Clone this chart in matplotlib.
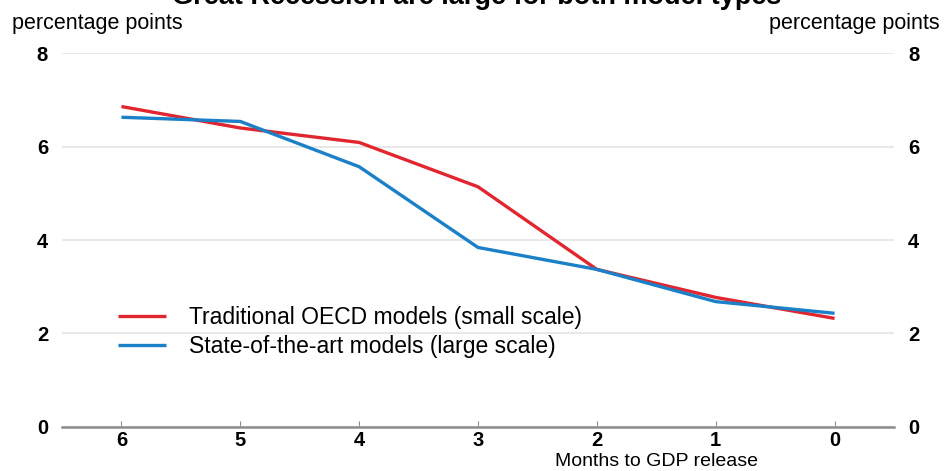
import matplotlib
matplotlib.use("Agg")
import matplotlib.pyplot as plt

months = [6, 5, 4, 3, 2, 1, 0]
traditional = [6.86, 6.40, 6.09, 5.14, 3.37, 2.77, 2.32]
state_of_art = [6.63, 6.54, 5.57, 3.84, 3.37, 2.68, 2.43]
y_ticks = [0, 2, 4, 6, 8]
labels = ["Traditional OECD models (small scale)", "State-of-the-art models (large scale)"]
title = "Great Recession are large for both model types"

plt.rcParams['font.family'] = ['Liberation Sans', 'DejaVu Sans']

fig = plt.figure(figsize=(9.44, 4.71), dpi=100)
ax = fig.add_axes([62/944, 1-426.7/471, 832/944, (426.7-53.3)/471])

ax.plot(months, traditional, color='#e2262f', lw=2.4, label=labels[0], solid_capstyle='butt')
ax.plot(months, state_of_art, color='#1a80c8', lw=2.4, label=labels[1], solid_capstyle='butt')

ax.set_xlim(6.5, -0.5)
ax.set_ylim(0, 8)
ax.set_yticks(y_ticks)
ax.set_xticks(months)
ax.grid(axis='y', color='#e4e4e4', lw=1.2)
ax.set_axisbelow(True)
for s in ['top', 'left', 'right']:
    ax.spines[s].set_visible(False)
ax.spines['bottom'].set_color('#8c8c8c')
ax.spines['bottom'].set_linewidth(1.8)
ax.tick_params(axis='y', length=0, labelsize=14.5, pad=10, labelright=True)
ax.tick_params(axis='x', direction='in', length=4, color='#8c8c8c', labelsize=14.5, pad=3)
for lab in ax.get_xticklabels() + ax.get_yticklabels():
    lab.set_fontweight('bold')
for t in ax.yaxis.get_major_ticks():
    t.label2.set_fontweight('bold')
    t.label2.set_fontsize(14.5)

leg = ax.legend(loc='center left', bbox_to_anchor=(0.067, 0.254), frameon=False,
                fontsize=16.5, handlelength=2.1, handletextpad=1.0, labelspacing=0.25,
                borderpad=0, borderaxespad=0)

ax.text(0.715, -(470.5-426.7)/373.4, "Months to GDP release", transform=ax.transAxes,
        ha='center', va='bottom', fontsize=14)
fig.text(12/944, 1-23/471, "percentage points", ha='left', va='center', fontsize=15.5)
fig.text(940/944, 1-23/471, "percentage points", ha='right', va='center', fontsize=15.5)
fig.text(477/944, 1-4/471, title, ha='center', va='baseline', fontsize=19.5, fontweight='bold')

fig.savefig("out.png", dpi=100)
